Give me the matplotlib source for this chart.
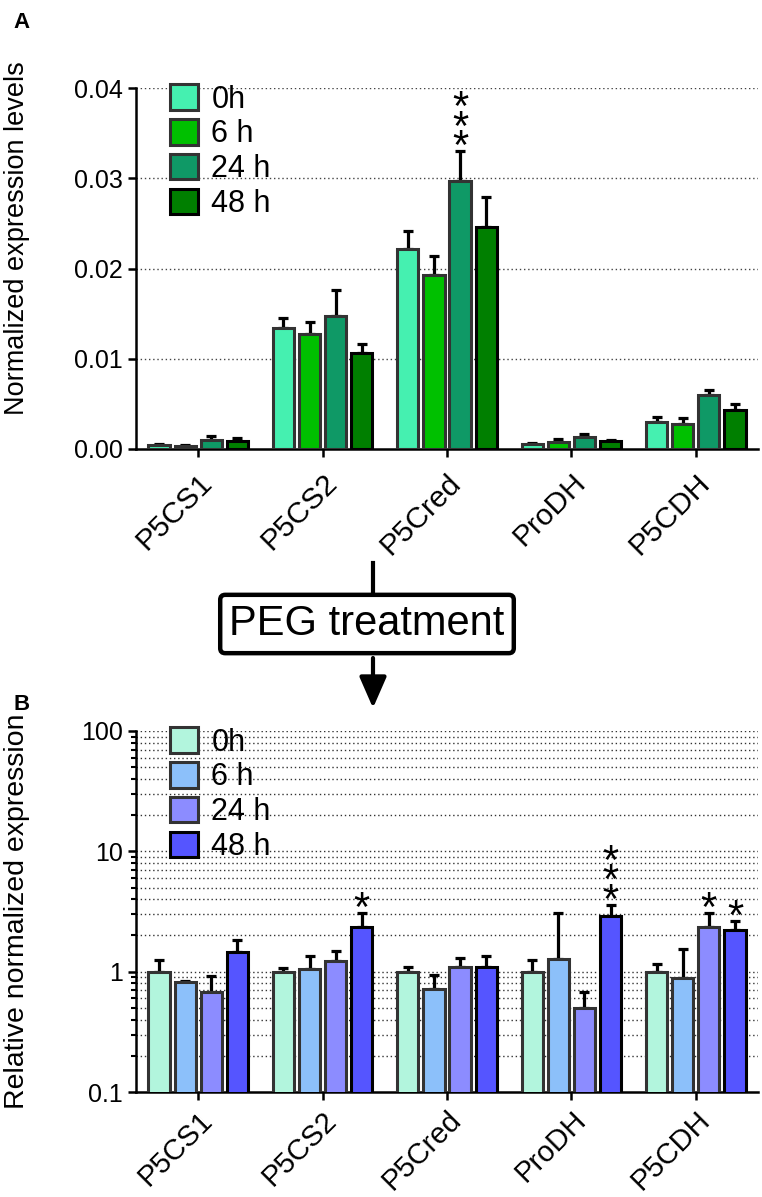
import numpy as np
import matplotlib
matplotlib.use("Agg")
import matplotlib.pyplot as plt
from matplotlib.patches import FancyArrowPatch
from matplotlib.lines import Line2D
from matplotlib.ticker import FixedLocator, FixedFormatter, LogLocator, NullFormatter

plt.rcParams['font.family'] = ['Liberation Sans', 'DejaVu Sans']

# genes on the x axis
genes = ['P5CS1', 'P5CS2', 'P5Cred', 'ProDH', 'P5CDH']
times = ['0h', '6 h', '24 h', '48 h']

# panel A: normalized expression levels (mean, upper error)
a_0h = [0.00044, 0.01337, 0.0222, 0.00052, 0.00303]
a_6h = [0.00033, 0.0127, 0.0193, 0.00074, 0.0028]
a_24h = [0.0010, 0.01474, 0.0297, 0.00137, 0.00598]
a_48h = [0.00089, 0.0106, 0.0246, 0.00089, 0.00432]
a_err_0h = [0.00016, 0.0011, 0.0020, 0.0001, 0.0005]
a_err_6h = [0.00015, 0.0014, 0.0021, 0.00033, 0.0006]
a_err_24h = [0.00044, 0.0029, 0.0033, 0.0003, 0.00056]
a_err_48h = [0.00036, 0.0010, 0.0033, 0.00011, 0.00067]

# panel B: relative normalized expression after PEG treatment
b_0h = [1.0, 1.0, 1.0, 1.0, 1.0]
b_6h = [0.815, 1.05, 0.72, 1.27, 0.887]
b_24h = [0.683, 1.23, 1.09, 0.503, 2.35]
b_48h = [1.446, 2.35, 1.085, 2.91, 2.2]
b_err_0h = [0.26, 0.07, 0.09, 0.26, 0.16]
b_err_6h = [0.015, 0.29, 0.225, 1.8, 0.67]
b_err_24h = [0.23, 0.26, 0.21, 0.18, 0.75]
b_err_48h = [0.39, 0.75, 0.255, 0.68, 0.45]

# significance marks: (time index, gene index, number of stars)
a_stars = [(2, 2, 3)]
b_stars = [(3, 1, 1), (3, 3, 3), (2, 4, 1), (3, 4, 1)]

a_colors = ['#45F0B0', '#00C000', '#0F9966', '#007F00']
b_colors = ['#B2F5DD', '#8CC0FA', '#8C8CFF', '#5555FF']
edge_colors = ['#333333', '#333333', '#333333', '#000000']

W, H = 762, 1197
fig = plt.figure(figsize=(W / 100, H / 100), dpi=100)


def px_axes(l, t, r, b):
    return fig.add_axes([l / W, 1 - b / H, (r - l) / W, (b - t) / H])


def draw_panel(ax, series, errs, colors, stars, xfont, xpad):
    x = np.arange(len(genes))
    pitch, width = 0.21, 0.17
    tops = []
    for k, (vals, err) in enumerate(zip(series, errs)):
        xs = x + (k - 1.5) * pitch
        ax.bar(xs, vals, width, color=colors[k], edgecolor=edge_colors[k],
               linewidth=2.2, label=times[k], zorder=3)
        ax.errorbar(xs, vals, yerr=[np.zeros(len(vals)), err], fmt='none',
                    ecolor='black', elinewidth=2.3, capsize=3.4, capthick=2.3,
                    zorder=2)
        tops.append(np.array(vals) + np.array(err))
    for k, g, n in stars:
        xs = x[g] + (k - 1.5) * pitch
        for s in range(n):
            ax.annotate('*', (xs, tops[k][g]), xytext=(0, 2 + 14.2 * s),
                        textcoords='offset points', ha='center', va='center',
                        fontsize=30, zorder=5)
    ax.set_xlim(-0.5, 4.5)
    ax.set_xticks(x)
    for side in ['top', 'right']:
        ax.spines[side].set_visible(False)
    for side in ['left', 'bottom']:
        ax.spines[side].set_linewidth(1.8)
    ax.tick_params(axis='both', which='major', length=6, width=1.8,
                   direction='out', labelsize=18)
    ax.tick_params(axis='x', pad=xpad)
    ax.set_xticklabels(genes, rotation=45, ha='right', rotation_mode='anchor',
                       fontsize=xfont)
    ax.legend(loc='upper left', bbox_to_anchor=(0.055, 1.01), frameon=False,
              fontsize=22, handlelength=0.9, handleheight=0.9,
              handletextpad=0.45, labelspacing=0.15, borderaxespad=0,
              borderpad=0)


# panel A
axA = px_axes(136, 88, 758, 449)
axA.set_ylim(0, 0.04)
draw_panel(axA, [a_0h, a_6h, a_24h, a_48h],
           [a_err_0h, a_err_6h, a_err_24h, a_err_48h], a_colors, a_stars, 21.5, 8)
axA.set_ylim(0, 0.04)
axA.set_yticks([0, 0.01, 0.02, 0.03, 0.04])
axA.set_yticklabels(['0.00', '0.01', '0.02', '0.03', '0.04'])
for v in [0.01, 0.02, 0.03, 0.04]:
    axA.axhline(v, color='#444444', linestyle=(0, (1, 2)), linewidth=1, zorder=1)
axA.set_ylabel('Normalized expression levels', fontsize=19.5)
axA.yaxis.set_label_coords(-0.17, 0.585)

# panel B
axB = px_axes(136, 731, 758, 1092)
axB.set_yscale('log')
axB.set_ylim(0.1, 100)
draw_panel(axB, [b_0h, b_6h, b_24h, b_48h],
           [b_err_0h, b_err_6h, b_err_24h, b_err_48h], b_colors, b_stars, 21, 4)
axB.set_ylim(0.1, 100)
axB.yaxis.set_major_locator(FixedLocator([0.1, 1, 10, 100]))
axB.yaxis.set_major_formatter(FixedFormatter(['0.1', '1', '10', '100']))
axB.yaxis.set_minor_locator(LogLocator(base=10, subs=np.arange(2, 10)))
axB.yaxis.set_minor_formatter(NullFormatter())
axB.tick_params(axis='y', which='minor', length=3.5, width=1.5)
grid_vals = [m * 10.0 ** e for e in (-1, 0, 1) for m in range(1, 10)] + [100]
for v in grid_vals[1:]:
    axB.axhline(v, color='#333333', linestyle=(0, (1, 2)), linewidth=1, zorder=1)
axB.set_ylabel('Relative normalized expression', fontsize=20.5)
axB.yaxis.set_label_coords(-0.17, 0.5)

# panel letters
fig.text(22 / W, 1 - 23 / H, 'A', fontsize=16, fontweight='bold', ha='center', va='center')
fig.text(22 / W, 1 - 705 / H, 'B', fontsize=16, fontweight='bold', ha='center', va='center')


# PEG treatment box with arrow (positions in inches from bottom-left)
def pin(xp, yp):
    return (xp / 100, (H - yp) / 100)


fig.add_artist(Line2D([373 / W, 373 / W], [1 - 563 / H, 1 - 592 / H],
                      color='black', linewidth=3, transform=fig.transFigure))
fig.text(367 / W, 1 - 624 / H, 'PEG treatment', fontsize=30, ha='center', va='center',
         bbox=dict(boxstyle='round,pad=0.22,rounding_size=0.12', fc='white',
                   ec='black', lw=3.2))
arrow = FancyArrowPatch(pin(373, 658), pin(373, 708),
                        arrowstyle='-|>,head_length=19,head_width=8.3',
                        mutation_scale=1, color='black', linewidth=3,
                        shrinkA=0, shrinkB=0, transform=fig.dpi_scale_trans)
fig.add_artist(arrow)

fig.savefig('out.png', dpi=100)
